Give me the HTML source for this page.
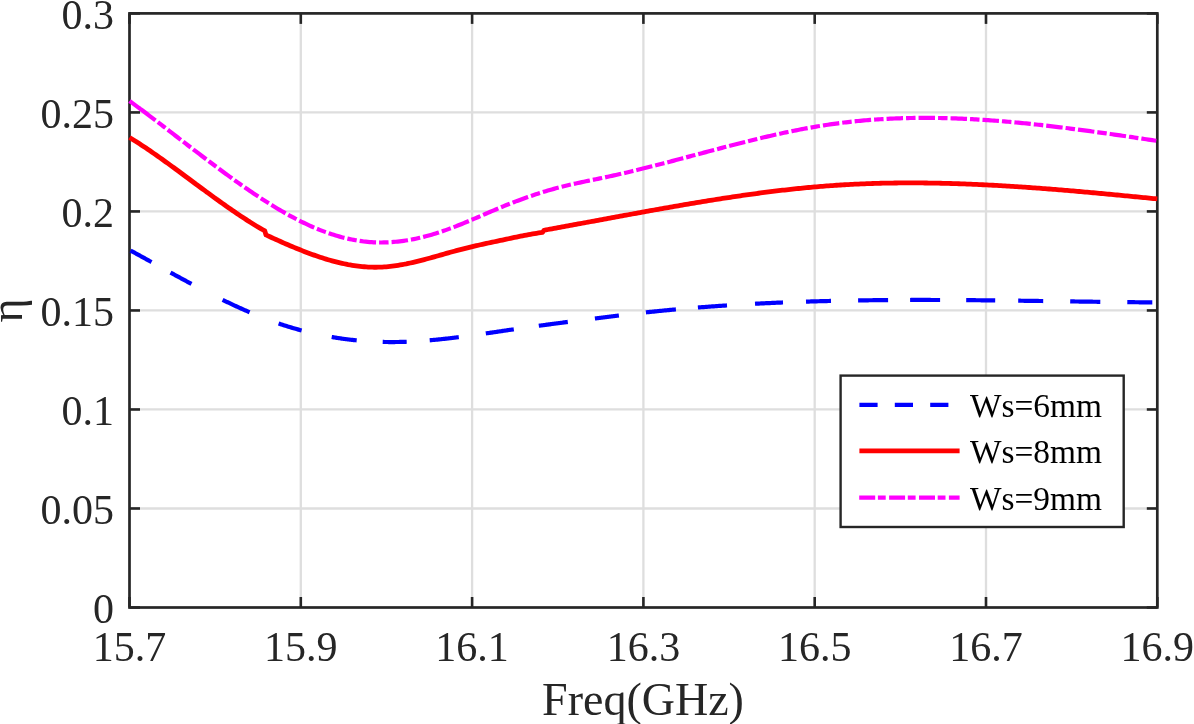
<!DOCTYPE html>
<html><head><meta charset="utf-8"><style>
html,body{margin:0;padding:0;background:#fff;width:1194px;height:724px;overflow:hidden}
svg{display:block;will-change:transform}
text{font-family:"Liberation Serif",serif;fill:#262626}
</style></head><body>
<svg width="1194" height="724" viewBox="0 0 1194 724">
<line x1="300.80" y1="13.40" x2="300.80" y2="607.50" stroke="#dedede" stroke-width="2.3"/>
<line x1="472.10" y1="13.40" x2="472.10" y2="607.50" stroke="#dedede" stroke-width="2.3"/>
<line x1="643.40" y1="13.40" x2="643.40" y2="607.50" stroke="#dedede" stroke-width="2.3"/>
<line x1="814.70" y1="13.40" x2="814.70" y2="607.50" stroke="#dedede" stroke-width="2.3"/>
<line x1="986.00" y1="13.40" x2="986.00" y2="607.50" stroke="#dedede" stroke-width="2.3"/>
<line x1="129.50" y1="508.48" x2="1157.30" y2="508.48" stroke="#dedede" stroke-width="2.3"/>
<line x1="129.50" y1="409.47" x2="1157.30" y2="409.47" stroke="#dedede" stroke-width="2.3"/>
<line x1="129.50" y1="310.45" x2="1157.30" y2="310.45" stroke="#dedede" stroke-width="2.3"/>
<line x1="129.50" y1="211.43" x2="1157.30" y2="211.43" stroke="#dedede" stroke-width="2.3"/>
<line x1="129.50" y1="112.42" x2="1157.30" y2="112.42" stroke="#dedede" stroke-width="2.3"/>
<line x1="129.50" y1="607.50" x2="129.50" y2="597.00" stroke="#262626" stroke-width="2.6"/>
<line x1="129.50" y1="13.40" x2="129.50" y2="23.90" stroke="#262626" stroke-width="2.6"/>
<line x1="300.80" y1="607.50" x2="300.80" y2="597.00" stroke="#262626" stroke-width="2.6"/>
<line x1="300.80" y1="13.40" x2="300.80" y2="23.90" stroke="#262626" stroke-width="2.6"/>
<line x1="472.10" y1="607.50" x2="472.10" y2="597.00" stroke="#262626" stroke-width="2.6"/>
<line x1="472.10" y1="13.40" x2="472.10" y2="23.90" stroke="#262626" stroke-width="2.6"/>
<line x1="643.40" y1="607.50" x2="643.40" y2="597.00" stroke="#262626" stroke-width="2.6"/>
<line x1="643.40" y1="13.40" x2="643.40" y2="23.90" stroke="#262626" stroke-width="2.6"/>
<line x1="814.70" y1="607.50" x2="814.70" y2="597.00" stroke="#262626" stroke-width="2.6"/>
<line x1="814.70" y1="13.40" x2="814.70" y2="23.90" stroke="#262626" stroke-width="2.6"/>
<line x1="986.00" y1="607.50" x2="986.00" y2="597.00" stroke="#262626" stroke-width="2.6"/>
<line x1="986.00" y1="13.40" x2="986.00" y2="23.90" stroke="#262626" stroke-width="2.6"/>
<line x1="1157.30" y1="607.50" x2="1157.30" y2="597.00" stroke="#262626" stroke-width="2.6"/>
<line x1="1157.30" y1="13.40" x2="1157.30" y2="23.90" stroke="#262626" stroke-width="2.6"/>
<line x1="129.50" y1="607.50" x2="140.00" y2="607.50" stroke="#262626" stroke-width="2.6"/>
<line x1="1157.30" y1="607.50" x2="1146.80" y2="607.50" stroke="#262626" stroke-width="2.6"/>
<line x1="129.50" y1="508.48" x2="140.00" y2="508.48" stroke="#262626" stroke-width="2.6"/>
<line x1="1157.30" y1="508.48" x2="1146.80" y2="508.48" stroke="#262626" stroke-width="2.6"/>
<line x1="129.50" y1="409.47" x2="140.00" y2="409.47" stroke="#262626" stroke-width="2.6"/>
<line x1="1157.30" y1="409.47" x2="1146.80" y2="409.47" stroke="#262626" stroke-width="2.6"/>
<line x1="129.50" y1="310.45" x2="140.00" y2="310.45" stroke="#262626" stroke-width="2.6"/>
<line x1="1157.30" y1="310.45" x2="1146.80" y2="310.45" stroke="#262626" stroke-width="2.6"/>
<line x1="129.50" y1="211.43" x2="140.00" y2="211.43" stroke="#262626" stroke-width="2.6"/>
<line x1="1157.30" y1="211.43" x2="1146.80" y2="211.43" stroke="#262626" stroke-width="2.6"/>
<line x1="129.50" y1="112.42" x2="140.00" y2="112.42" stroke="#262626" stroke-width="2.6"/>
<line x1="1157.30" y1="112.42" x2="1146.80" y2="112.42" stroke="#262626" stroke-width="2.6"/>
<line x1="129.50" y1="13.40" x2="140.00" y2="13.40" stroke="#262626" stroke-width="2.6"/>
<line x1="1157.30" y1="13.40" x2="1146.80" y2="13.40" stroke="#262626" stroke-width="2.6"/>
<rect x="129.50" y="13.40" width="1027.80" height="594.10" fill="none" stroke="#262626" stroke-width="2.7"/>
<path d="M129.5,100.96 L130.5,101.69 L131.5,102.42 L132.5,103.15 L133.5,103.88 L134.5,104.62 L135.5,105.35 L136.5,106.09 L137.5,106.83 L138.5,107.57 L139.5,108.31 L140.5,109.06 L141.5,109.80 L142.5,110.55 L143.5,111.30 L144.5,112.05 L145.5,112.80 L146.5,113.55 L147.5,114.30 L148.5,115.06 L149.5,115.81 L150.5,116.57 L151.5,117.32 L152.5,118.08 L153.5,118.84 L154.5,119.60 L155.5,120.36" fill="none" stroke="#ff00ff" stroke-width="4.2"/>
<path d="M155.5,120.36 L157.5,121.89 L159.5,123.42 L161.5,124.95 L163.5,126.48 L165.5,128.02 L167.5,129.55 L169.5,131.09 L171.5,132.63 L173.5,134.17 L175.5,135.72 L177.5,137.26 L179.5,138.80 L181.5,140.35 L183.5,141.89 L185.5,143.43 L187.5,144.97 L189.5,146.51 L191.5,148.05 L193.5,149.59 L195.6,151.13 L197.6,152.66 L199.6,154.19 L201.6,155.71 L203.6,157.24 L205.6,158.76 L207.6,160.27 L209.6,161.79 L211.6,163.29 L213.6,164.80 L215.6,166.30 L217.6,167.79 L219.6,169.28 L221.6,170.76 L223.6,172.23 L225.6,173.70 L227.6,175.16 L229.6,176.62 L231.6,178.07 L233.6,179.51 L235.6,180.94 L237.6,182.36 L239.6,183.78 L241.6,185.19 L243.6,186.58 L245.6,187.97 L247.6,189.35 L249.6,190.72 L251.6,192.08 L253.6,193.43 L255.6,194.76 L257.6,196.09 L259.6,197.41 L261.6,198.71 L263.6,200.00 L265.6,201.28 L267.6,202.55 L269.6,203.80 L271.6,205.04 L273.6,206.27 L275.6,207.48 L277.6,208.68 L279.6,209.86 L281.6,211.03 L283.6,212.18 L285.6,213.31 L287.6,214.43 L289.6,215.54 L291.6,216.62 L293.6,217.69 L295.6,218.74 L297.6,219.77 L299.6,220.79 L301.6,221.78 L303.6,222.76 L305.6,223.71 L307.6,224.65 L309.6,225.57 L311.6,226.46 L313.6,227.34 L315.6,228.19 L317.6,229.02 L319.6,229.83 L321.6,230.61 L323.7,231.38 L325.7,232.12 L327.7,232.83 L329.7,233.53 L331.7,234.20 L333.7,234.84 L335.7,235.46 L337.7,236.06 L339.7,236.63 L341.7,237.17 L343.7,237.69 L345.7,238.19 L347.7,238.66 L349.7,239.10 L351.7,239.52 L353.7,239.91 L355.7,240.27 L357.7,240.61 L359.7,240.92 L361.7,241.20 L363.7,241.46 L365.7,241.68 L367.7,241.88 L369.7,242.05 L371.7,242.19 L373.7,242.31 L375.7,242.39 L377.7,242.45 L379.7,242.48 L381.7,242.48 L383.7,242.46 L385.7,242.41 L387.7,242.33 L389.7,242.23 L391.7,242.11 L393.7,241.95 L395.7,241.78 L397.7,241.58 L399.7,241.35 L401.7,241.10 L403.7,240.82 L405.7,240.53 L407.7,240.21 L409.7,239.86 L411.7,239.50 L413.7,239.11 L415.7,238.70 L417.7,238.27 L419.7,237.81 L421.7,237.34 L423.7,236.84 L425.7,236.33 L427.7,235.79 L429.7,235.24 L431.7,234.66 L433.7,234.07 L435.7,233.45 L437.7,232.82 L439.7,232.17 L441.7,231.50 L443.7,230.81 L445.7,230.11 L447.7,229.39 L449.7,228.65 L451.8,227.90 L453.8,227.13 L455.8,226.36 L457.8,225.57 L459.8,224.76 L461.8,223.95 L463.8,223.13 L465.8,222.30 L467.8,221.47 L469.8,220.62 L471.8,219.77 L473.8,218.92 L475.8,218.06 L477.8,217.20 L479.8,216.34 L481.8,215.47 L483.8,214.61 L485.8,213.74 L487.8,212.88 L489.8,212.02 L491.8,211.16 L493.8,210.31 L495.8,209.46 L497.8,208.62 L499.8,207.78 L501.8,206.95 L503.8,206.13 L505.8,205.32 L507.8,204.52 L509.8,203.73 L511.8,202.95 L513.8,202.17 L515.8,201.41 L517.8,200.66 L519.8,199.91 L521.8,199.18 L523.8,198.45 L525.8,197.74 L527.8,197.03 L529.8,196.34 L531.8,195.66 L533.8,194.98 L535.8,194.32 L537.8,193.67 L539.8,193.03 L541.8,192.40 L543.8,191.78 L545.8,191.18 L547.8,190.58 L549.8,190.00 L551.8,189.43 L553.8,188.87 L555.8,188.32 L557.8,187.78 L559.8,187.26 L561.8,186.75 L563.8,186.25 L565.8,185.76 L567.8,185.28 L569.8,184.81 L571.8,184.35 L573.8,183.90 L575.8,183.45 L577.8,183.02 L579.9,182.58 L581.9,182.15 L583.9,181.73 L585.9,181.31 L587.9,180.90 L589.9,180.48 L591.9,180.07 L593.9,179.65 L595.9,179.24 L597.9,178.83 L599.9,178.41 L601.9,178.00 L603.9,177.58 L605.9,177.15 L607.9,176.73 L609.9,176.29 L611.9,175.86 L613.9,175.42 L615.9,174.97 L617.9,174.52 L619.9,174.06 L621.9,173.61 L623.9,173.14 L625.9,172.68 L627.9,172.21 L629.9,171.73 L631.9,171.26 L633.9,170.78 L635.9,170.29 L637.9,169.80 L639.9,169.31 L641.9,168.82 L643.9,168.33 L645.9,167.83 L647.9,167.32 L649.9,166.82 L651.9,166.31 L653.9,165.80 L655.9,165.29 L657.9,164.78 L659.9,164.26 L661.9,163.75 L663.9,163.23 L665.9,162.71 L667.9,162.19 L669.9,161.66 L671.9,161.14 L673.9,160.61 L675.9,160.08 L677.9,159.55 L679.9,159.02 L681.9,158.49 L683.9,157.96 L685.9,157.43 L687.9,156.90 L689.9,156.36 L691.9,155.83 L693.9,155.30 L695.9,154.76 L697.9,154.23 L699.9,153.70 L701.9,153.16 L703.9,152.63 L705.9,152.10 L708.0,151.57 L710.0,151.03 L712.0,150.50 L714.0,149.97 L716.0,149.45 L718.0,148.92 L720.0,148.39 L722.0,147.87 L724.0,147.34 L726.0,146.82 L728.0,146.30 L730.0,145.78 L732.0,145.27 L734.0,144.75 L736.0,144.24 L738.0,143.73 L740.0,143.22 L742.0,142.71 L744.0,142.21 L746.0,141.71 L748.0,141.21 L750.0,140.71 L752.0,140.22 L754.0,139.73 L756.0,139.24 L758.0,138.76 L760.0,138.28 L762.0,137.80 L764.0,137.33 L766.0,136.86 L768.0,136.40 L770.0,135.93 L772.0,135.48 L774.0,135.02 L776.0,134.57 L778.0,134.13 L780.0,133.69 L782.0,133.25 L784.0,132.82 L786.0,132.39 L788.0,131.97 L790.0,131.55 L792.0,131.14 L794.0,130.73 L796.0,130.33 L798.0,129.94 L800.0,129.55 L802.0,129.16 L804.0,128.78 L806.0,128.41 L808.0,128.04 L810.0,127.68 L812.0,127.32 L814.0,126.97 L816.0,126.63 L818.0,126.29 L820.0,125.96 L822.0,125.64 L824.0,125.32 L826.0,125.01 L828.0,124.71 L830.0,124.41 L832.0,124.13 L834.0,123.84 L836.0,123.57 L838.1,123.30 L840.1,123.04 L842.1,122.79 L844.1,122.54 L846.1,122.30 L848.1,122.07 L850.1,121.84 L852.1,121.63 L854.1,121.41 L856.1,121.21 L858.1,121.01 L860.1,120.82 L862.1,120.63 L864.1,120.45 L866.1,120.28 L868.1,120.11 L870.1,119.95 L872.1,119.80 L874.1,119.65 L876.1,119.51 L878.1,119.37 L880.1,119.24 L882.1,119.12 L884.1,119.00 L886.1,118.89 L888.1,118.79 L890.1,118.69 L892.1,118.60 L894.1,118.51 L896.1,118.43 L898.1,118.35 L900.1,118.28 L902.1,118.22 L904.1,118.16 L906.1,118.10 L908.1,118.06 L910.1,118.01 L912.1,117.98 L914.1,117.95 L916.1,117.92 L918.1,117.90 L920.1,117.88 L922.1,117.87 L924.1,117.87 L926.1,117.87 L928.1,117.87 L930.1,117.89 L932.1,117.90 L934.1,117.92 L936.1,117.95 L938.1,117.98 L940.1,118.01 L942.1,118.05 L944.1,118.09 L946.1,118.14 L948.1,118.20 L950.1,118.26 L952.1,118.32 L954.1,118.39 L956.1,118.46 L958.1,118.53 L960.1,118.62 L962.1,118.70 L964.1,118.79 L966.2,118.88 L968.2,118.98 L970.2,119.08 L972.2,119.19 L974.2,119.30 L976.2,119.41 L978.2,119.53 L980.2,119.66 L982.2,119.78 L984.2,119.91 L986.2,120.05 L988.2,120.18 L990.2,120.32 L992.2,120.47 L994.2,120.62 L996.2,120.77 L998.2,120.93 L1000.2,121.09 L1002.2,121.25 L1004.2,121.42 L1006.2,121.59 L1008.2,121.76 L1010.2,121.94 L1012.2,122.12 L1014.2,122.30 L1016.2,122.48 L1018.2,122.67 L1020.2,122.87 L1022.2,123.06 L1024.2,123.26 L1026.2,123.46 L1028.2,123.66 L1030.2,123.87 L1032.2,124.08 L1034.2,124.29 L1036.2,124.51 L1038.2,124.73 L1040.2,124.95 L1042.2,125.17 L1044.2,125.40 L1046.2,125.63 L1048.2,125.86 L1050.2,126.09 L1052.2,126.33 L1054.2,126.56 L1056.2,126.80 L1058.2,127.05 L1060.2,127.29 L1062.2,127.54 L1064.2,127.79 L1066.2,128.04 L1068.2,128.29 L1070.2,128.55 L1072.2,128.80 L1074.2,129.06 L1076.2,129.32 L1078.2,129.59 L1080.2,129.85 L1082.2,130.12 L1084.2,130.38 L1086.2,130.65 L1088.2,130.92 L1090.2,131.20 L1092.2,131.47 L1094.3,131.75 L1096.3,132.02 L1098.3,132.30 L1100.3,132.58 L1102.3,132.86 L1104.3,133.15 L1106.3,133.43 L1108.3,133.71 L1110.3,134.00 L1112.3,134.29 L1114.3,134.57 L1116.3,134.86 L1118.3,135.15 L1120.3,135.44 L1122.3,135.73 L1124.3,136.03 L1126.3,136.32 L1128.3,136.61 L1130.3,136.91 L1132.3,137.20 L1134.3,137.50 L1136.3,137.80 L1138.3,138.09 L1140.3,138.39 L1142.3,138.69 L1144.3,138.98 L1146.3,139.28 L1148.3,139.58 L1150.3,139.88 L1152.3,140.18 L1154.3,140.48 L1156.3,140.78" fill="none" stroke="#ff00ff" stroke-width="4.2" stroke-dasharray="16.5 3 9.5 3" stroke-dashoffset="16.5"/>
<path d="M129.5,137.43 L131.5,138.68 L133.5,139.94 L135.6,141.22 L137.6,142.52 L139.6,143.83 L141.6,145.15 L143.6,146.49 L145.7,147.84 L147.7,149.20 L149.7,150.58 L151.7,151.96 L153.7,153.36 L155.8,154.77 L157.8,156.19 L159.8,157.61 L161.8,159.05 L163.8,160.49 L165.8,161.94 L167.9,163.40 L169.9,164.86 L171.9,166.33 L173.9,167.80 L175.9,169.28 L178.0,170.77 L180.0,172.25 L182.0,173.74 L184.0,175.24 L186.0,176.73 L188.1,178.23 L190.1,179.73 L192.1,181.23 L194.1,182.72 L196.1,184.22 L198.2,185.72 L200.2,187.21 L202.2,188.71 L204.2,190.19 L206.2,191.68 L208.3,193.16 L210.3,194.64 L212.3,196.12 L214.3,197.58 L216.3,199.05 L218.4,200.50 L220.4,201.95 L222.4,203.39 L224.4,204.82 L226.4,206.24 L228.5,207.66 L230.5,209.06 L232.5,210.46 L234.5,211.84 L236.5,213.21 L238.5,214.57 L240.6,215.92 L242.6,217.25 L244.6,218.57 L246.6,219.88 L248.6,221.17 L250.7,222.45 L252.7,223.71 L254.7,224.96 L256.7,226.18 L258.7,227.39 L260.8,228.59 L262.8,229.76 L264.8,230.92 L266.0,234.94 L268.0,235.87 L270.0,236.79 L272.0,237.70 L274.0,238.61 L276.0,239.52 L278.0,240.42 L280.0,241.31 L282.0,242.20 L284.0,243.08 L286.0,243.96 L288.0,244.82 L290.0,245.68 L292.0,246.53 L294.1,247.37 L296.1,248.20 L298.1,249.02 L300.1,249.82 L302.1,250.62 L304.1,251.40 L306.1,252.18 L308.1,252.94 L310.1,253.68 L312.1,254.41 L314.1,255.13 L316.1,255.83 L318.1,256.51 L320.1,257.18 L322.1,257.84 L324.1,258.47 L326.1,259.09 L328.1,259.69 L330.1,260.27 L332.1,260.83 L334.1,261.37 L336.1,261.89 L338.1,262.39 L340.1,262.87 L342.1,263.33 L344.1,263.76 L346.1,264.17 L348.1,264.56 L350.2,264.92 L352.2,265.26 L354.2,265.58 L356.2,265.87 L358.2,266.13 L360.2,266.37 L362.2,266.58 L364.2,266.76 L366.2,266.91 L368.2,267.04 L370.2,267.13 L372.2,267.20 L374.2,267.23 L376.2,267.24 L378.2,267.21 L380.2,267.15 L382.2,267.06 L384.2,266.94 L386.2,266.79 L388.2,266.61 L390.2,266.40 L392.2,266.17 L394.2,265.91 L396.2,265.62 L398.2,265.31 L400.2,264.98 L402.2,264.62 L404.2,264.24 L406.3,263.85 L408.3,263.43 L410.3,263.00 L412.3,262.55 L414.3,262.09 L416.3,261.61 L418.3,261.12 L420.3,260.62 L422.3,260.10 L424.3,259.58 L426.3,259.04 L428.3,258.50 L430.3,257.95 L432.3,257.40 L434.3,256.84 L436.3,256.27 L438.3,255.71 L440.3,255.14 L442.3,254.57 L444.3,254.00 L446.3,253.43 L448.3,252.87 L450.3,252.31 L452.3,251.75 L454.3,251.20 L456.3,250.66 L458.3,250.12 L460.4,249.60 L462.4,249.08 L464.4,248.57 L466.4,248.07 L468.4,247.58 L470.4,247.10 L472.4,246.62 L474.4,246.15 L476.4,245.69 L478.4,245.23 L480.4,244.78 L482.4,244.33 L484.4,243.89 L486.4,243.45 L488.4,243.02 L490.4,242.58 L492.4,242.15 L494.4,241.73 L496.4,241.30 L498.4,240.88 L500.4,240.45 L502.4,240.03 L504.4,239.60 L506.4,239.17 L508.4,238.75 L510.4,238.32 L512.4,237.89 L514.4,237.46 L516.5,237.04 L518.5,236.62 L520.5,236.21 L522.5,235.80 L524.5,235.41 L526.5,235.02 L528.5,234.64 L530.5,234.28 L532.5,233.92 L534.5,233.59 L536.5,233.27 L538.5,232.97 L540.5,232.68 L542.5,232.42 L544.0,230.24 L546.0,229.88 L548.0,229.51 L550.0,229.15 L552.0,228.78 L554.0,228.41 L556.0,228.05 L558.0,227.68 L560.0,227.31 L562.0,226.94 L564.0,226.57 L566.0,226.20 L568.1,225.83 L570.1,225.46 L572.1,225.09 L574.1,224.72 L576.1,224.35 L578.1,223.98 L580.1,223.61 L582.1,223.24 L584.1,222.87 L586.1,222.50 L588.1,222.13 L590.1,221.76 L592.1,221.39 L594.1,221.02 L596.1,220.65 L598.1,220.27 L600.1,219.90 L602.1,219.53 L604.1,219.16 L606.1,218.79 L608.1,218.42 L610.1,218.05 L612.1,217.68 L614.1,217.31 L616.2,216.94 L618.2,216.58 L620.2,216.21 L622.2,215.84 L624.2,215.47 L626.2,215.10 L628.2,214.74 L630.2,214.37 L632.2,214.00 L634.2,213.64 L636.2,213.27 L638.2,212.91 L640.2,212.54 L642.2,212.18 L644.2,211.82 L646.2,211.46 L648.2,211.09 L650.2,210.73 L652.2,210.37 L654.2,210.01 L656.2,209.65 L658.2,209.30 L660.2,208.94 L662.3,208.58 L664.3,208.23 L666.3,207.87 L668.3,207.52 L670.3,207.17 L672.3,206.82 L674.3,206.47 L676.3,206.12 L678.3,205.77 L680.3,205.42 L682.3,205.08 L684.3,204.73 L686.3,204.39 L688.3,204.05 L690.3,203.71 L692.3,203.37 L694.3,203.03 L696.3,202.70 L698.3,202.36 L700.3,202.03 L702.3,201.70 L704.3,201.37 L706.3,201.04 L708.3,200.72 L710.4,200.39 L712.4,200.07 L714.4,199.75 L716.4,199.43 L718.4,199.12 L720.4,198.80 L722.4,198.49 L724.4,198.18 L726.4,197.87 L728.4,197.56 L730.4,197.26 L732.4,196.96 L734.4,196.66 L736.4,196.36 L738.4,196.07 L740.4,195.77 L742.4,195.48 L744.4,195.19 L746.4,194.91 L748.4,194.63 L750.4,194.35 L752.4,194.07 L754.4,193.79 L756.5,193.52 L758.5,193.25 L760.5,192.98 L762.5,192.72 L764.5,192.46 L766.5,192.20 L768.5,191.94 L770.5,191.69 L772.5,191.44 L774.5,191.20 L776.5,190.95 L778.5,190.71 L780.5,190.47 L782.5,190.24 L784.5,190.01 L786.5,189.78 L788.5,189.56 L790.5,189.34 L792.5,189.12 L794.5,188.90 L796.5,188.69 L798.5,188.49 L800.5,188.28 L802.5,188.08 L804.6,187.88 L806.6,187.69 L808.6,187.50 L810.6,187.32 L812.6,187.13 L814.6,186.95 L816.6,186.78 L818.6,186.61 L820.6,186.44 L822.6,186.28 L824.6,186.12 L826.6,185.97 L828.6,185.82 L830.6,185.67 L832.6,185.53 L834.6,185.39 L836.6,185.25 L838.6,185.12 L840.6,185.00 L842.6,184.87 L844.6,184.76 L846.6,184.64 L848.6,184.53 L850.6,184.42 L852.7,184.32 L854.7,184.22 L856.7,184.13 L858.7,184.03 L860.7,183.95 L862.7,183.86 L864.7,183.78 L866.7,183.71 L868.7,183.63 L870.7,183.56 L872.7,183.50 L874.7,183.44 L876.7,183.38 L878.7,183.32 L880.7,183.27 L882.7,183.22 L884.7,183.18 L886.7,183.14 L888.7,183.10 L890.7,183.07 L892.7,183.04 L894.7,183.01 L896.7,182.98 L898.8,182.96 L900.8,182.95 L902.8,182.93 L904.8,182.92 L906.8,182.91 L908.8,182.91 L910.8,182.91 L912.8,182.91 L914.8,182.91 L916.8,182.92 L918.8,182.93 L920.8,182.94 L922.8,182.96 L924.8,182.98 L926.8,183.00 L928.8,183.03 L930.8,183.06 L932.8,183.09 L934.8,183.12 L936.8,183.16 L938.8,183.20 L940.8,183.24 L942.8,183.29 L944.8,183.34 L946.9,183.39 L948.9,183.44 L950.9,183.50 L952.9,183.56 L954.9,183.62 L956.9,183.68 L958.9,183.75 L960.9,183.82 L962.9,183.89 L964.9,183.96 L966.9,184.04 L968.9,184.12 L970.9,184.20 L972.9,184.28 L974.9,184.37 L976.9,184.46 L978.9,184.55 L980.9,184.64 L982.9,184.74 L984.9,184.83 L986.9,184.93 L988.9,185.04 L990.9,185.14 L993.0,185.25 L995.0,185.36 L997.0,185.47 L999.0,185.58 L1001.0,185.69 L1003.0,185.81 L1005.0,185.93 L1007.0,186.05 L1009.0,186.17 L1011.0,186.30 L1013.0,186.42 L1015.0,186.55 L1017.0,186.68 L1019.0,186.81 L1021.0,186.95 L1023.0,187.08 L1025.0,187.22 L1027.0,187.36 L1029.0,187.50 L1031.0,187.64 L1033.0,187.79 L1035.0,187.93 L1037.0,188.08 L1039.0,188.23 L1041.1,188.38 L1043.1,188.53 L1045.1,188.68 L1047.1,188.84 L1049.1,188.99 L1051.1,189.15 L1053.1,189.31 L1055.1,189.47 L1057.1,189.63 L1059.1,189.80 L1061.1,189.96 L1063.1,190.13 L1065.1,190.30 L1067.1,190.46 L1069.1,190.63 L1071.1,190.80 L1073.1,190.98 L1075.1,191.15 L1077.1,191.32 L1079.1,191.50 L1081.1,191.67 L1083.1,191.85 L1085.1,192.03 L1087.2,192.21 L1089.2,192.39 L1091.2,192.57 L1093.2,192.75 L1095.2,192.94 L1097.2,193.12 L1099.2,193.30 L1101.2,193.49 L1103.2,193.68 L1105.2,193.86 L1107.2,194.05 L1109.2,194.24 L1111.2,194.43 L1113.2,194.62 L1115.2,194.81 L1117.2,195.00 L1119.2,195.19 L1121.2,195.38 L1123.2,195.58 L1125.2,195.77 L1127.2,195.96 L1129.2,196.16 L1131.2,196.35 L1133.2,196.55 L1135.3,196.74 L1137.3,196.94 L1139.3,197.14 L1141.3,197.33 L1143.3,197.53 L1145.3,197.73 L1147.3,197.93 L1149.3,198.12 L1151.3,198.32 L1153.3,198.52 L1155.3,198.72 L1157.3,198.92" fill="none" stroke="#ff0000" stroke-width="4.8" stroke-linejoin="round"/>
<path d="M130.5,250.53 L131.5,251.07 L132.5,251.62 L133.5,252.17 L134.5,252.71 L135.5,253.26 L136.5,253.81 L137.5,254.36 L138.5,254.91 L139.5,255.46 L140.5,256.01 L141.5,256.56 L142.5,257.11 L143.5,257.66 L144.5,258.21 L145.5,258.76 L146.5,259.31 L147.5,259.86 L148.5,260.41 L149.5,260.97 L150.5,261.52 L151.5,262.07" fill="none" stroke="#0000ff" stroke-width="4.2"/>
<path d="M170.5,272.55 L171.5,273.09 L172.5,273.64 L173.5,274.19 L174.5,274.74 L175.5,275.28 L176.5,275.83 L177.5,276.37 L178.5,276.92 L179.5,277.46 L180.5,278.00 L181.5,278.55 L182.5,279.09 L183.5,279.63 L184.5,280.17 L185.5,280.71 L186.5,281.25 L187.5,281.78 L188.5,282.32 L189.5,282.86 L190.5,283.39 L191.5,283.92" fill="none" stroke="#0000ff" stroke-width="4.2"/>
<path d="M222.6,299.83 L223.6,300.31 L224.6,300.80 L225.6,301.28 L226.6,301.77 L227.6,302.25 L228.6,302.72 L229.6,303.20 L230.6,303.67 L231.6,304.14 L232.6,304.61 L233.6,305.08 L234.6,305.55 L235.6,306.01 L236.6,306.47 L237.6,306.93 L238.6,307.39 L239.6,307.84 L240.6,308.29 L241.6,308.74 L242.6,309.19 L243.6,309.63 L244.6,310.07 L245.6,310.51 L246.6,310.95 L247.6,311.39 L248.6,311.82 L249.6,312.25" fill="none" stroke="#0000ff" stroke-width="4.2"/>
<path d="M278.6,323.47 L279.6,323.81 L280.6,324.14 L281.6,324.48 L282.6,324.81 L283.6,325.13 L284.6,325.46 L285.6,325.78 L286.6,326.09 L287.6,326.41 L288.6,326.72 L289.6,327.02 L290.6,327.33 L291.6,327.63 L292.6,327.92 L293.6,328.22 L294.6,328.51 L295.6,328.79 L296.6,329.08 L297.6,329.36 L298.6,329.63 L299.6,329.91 L300.6,330.18 L301.6,330.45" fill="none" stroke="#0000ff" stroke-width="4.2"/>
<path d="M331.7,337.00 L332.7,337.17 L333.7,337.34 L334.7,337.50 L335.7,337.66 L336.7,337.82 L337.7,337.98 L338.7,338.13 L339.7,338.28 L340.7,338.42 L341.7,338.57 L342.7,338.71 L343.7,338.84 L344.7,338.98 L345.7,339.11 L346.7,339.24 L347.7,339.36 L348.7,339.48 L349.7,339.60 L350.7,339.72 L351.7,339.83 L352.7,339.95 L353.7,340.05 L354.7,340.16 L355.7,340.26 L356.7,340.36" fill="none" stroke="#0000ff" stroke-width="4.2"/>
<path d="M382.7,341.93 L383.7,341.96 L384.7,341.98 L385.7,342.00 L386.7,342.01 L387.7,342.02 L388.7,342.03 L389.7,342.04 L390.7,342.04 L391.7,342.04 L392.7,342.04 L393.7,342.04 L394.7,342.03 L395.7,342.02 L396.7,342.01 L397.7,341.99 L398.7,341.98 L399.7,341.96 L400.7,341.93 L401.7,341.91 L402.7,341.88 L403.7,341.85 L404.7,341.82 L405.7,341.79 L406.7,341.75" fill="none" stroke="#0000ff" stroke-width="4.2"/>
<path d="M429.7,340.29 L430.7,340.20 L431.7,340.12 L432.7,340.02 L433.7,339.93 L434.7,339.84 L435.7,339.74 L436.7,339.65 L437.7,339.55 L438.7,339.45 L439.7,339.35 L440.7,339.24 L441.7,339.14 L442.7,339.03 L443.7,338.92 L444.7,338.81 L445.7,338.70 L446.7,338.59 L447.7,338.48 L448.7,338.36 L449.7,338.25 L450.8,338.13 L451.8,338.01 L452.8,337.89 L453.8,337.77 L454.8,337.65 L455.8,337.53 L456.8,337.40 L457.8,337.28 L458.8,337.15" fill="none" stroke="#0000ff" stroke-width="4.2"/>
<path d="M485.8,333.43 L486.8,333.28 L487.8,333.14 L488.8,332.99 L489.8,332.84 L490.8,332.70 L491.8,332.55 L492.8,332.40 L493.8,332.26 L494.8,332.11 L495.8,331.96 L496.8,331.81 L497.8,331.66 L498.8,331.52 L499.8,331.37 L500.8,331.22 L501.8,331.07 L502.8,330.92 L503.8,330.78 L504.8,330.63 L505.8,330.48 L506.8,330.33 L507.8,330.19 L508.8,330.04 L509.8,329.89 L510.8,329.75 L511.8,329.60 L512.8,329.46 L513.8,329.31" fill="none" stroke="#0000ff" stroke-width="4.2"/>
<path d="M538.8,325.79 L539.8,325.65 L540.8,325.51 L541.8,325.38 L542.8,325.24 L543.8,325.11 L544.8,324.97 L545.8,324.84 L546.8,324.70 L547.8,324.57 L548.8,324.43 L549.8,324.30 L550.8,324.16 L551.8,324.03 L552.8,323.90 L553.8,323.76 L554.8,323.63 L555.8,323.50 L556.8,323.37 L557.8,323.23 L558.8,323.10 L559.8,322.97 L560.8,322.84 L561.8,322.71 L562.8,322.58 L563.8,322.45 L564.8,322.32 L565.8,322.19 L566.8,322.06 L567.8,321.93" fill="none" stroke="#0000ff" stroke-width="4.2"/>
<path d="M594.9,318.47 L595.9,318.35 L596.9,318.22 L597.9,318.10 L598.9,317.97 L599.9,317.84 L600.9,317.72 L601.9,317.59 L602.9,317.47 L603.9,317.34 L604.9,317.22 L605.9,317.09 L606.9,316.97 L607.9,316.84 L608.9,316.72 L609.9,316.60 L610.9,316.47 L611.9,316.35 L612.9,316.23 L613.9,316.10 L614.9,315.98 L615.9,315.86 L616.9,315.74 L617.9,315.62 L618.9,315.50" fill="none" stroke="#0000ff" stroke-width="4.2"/>
<path d="M645.9,312.39 L646.9,312.28 L647.9,312.17 L648.9,312.06 L649.9,311.96 L650.9,311.85 L651.9,311.75 L652.9,311.64 L653.9,311.54 L654.9,311.43 L655.9,311.33 L656.9,311.23 L657.9,311.13 L658.9,311.03 L659.9,310.93 L660.9,310.83 L661.9,310.73 L662.9,310.63 L663.9,310.53 L664.9,310.43 L665.9,310.34 L666.9,310.24 L667.9,310.14 L668.9,310.05 L669.9,309.95 L670.9,309.86 L671.9,309.76 L672.9,309.67 L673.9,309.58 L674.9,309.49 L675.9,309.40" fill="none" stroke="#0000ff" stroke-width="4.2"/>
<path d="M697.9,307.52 L698.9,307.44 L699.9,307.36 L700.9,307.28 L701.9,307.20 L702.9,307.13 L703.9,307.05 L704.9,306.97 L705.9,306.90 L706.9,306.82 L708.0,306.75 L709.0,306.67 L710.0,306.60 L711.0,306.53 L712.0,306.45 L713.0,306.38 L714.0,306.31 L715.0,306.24 L716.0,306.17 L717.0,306.10 L718.0,306.03 L719.0,305.96 L720.0,305.89 L721.0,305.82 L722.0,305.75 L723.0,305.68 L724.0,305.62 L725.0,305.55 L726.0,305.49 L727.0,305.42" fill="none" stroke="#0000ff" stroke-width="4.2"/>
<path d="M755.0,303.77 L756.0,303.72 L757.0,303.67 L758.0,303.62 L759.0,303.57 L760.0,303.52 L761.0,303.47 L762.0,303.42 L763.0,303.37 L764.0,303.32 L765.0,303.27 L766.0,303.22 L767.0,303.18 L768.0,303.13 L769.0,303.08 L770.0,303.03 L771.0,302.99 L772.0,302.94 L773.0,302.90 L774.0,302.85 L775.0,302.81 L776.0,302.77 L777.0,302.72 L778.0,302.68 L779.0,302.64 L780.0,302.59 L781.0,302.55 L782.0,302.51 L783.0,302.47" fill="none" stroke="#0000ff" stroke-width="4.2"/>
<path d="M806.0,301.63 L807.0,301.60 L808.0,301.57 L809.0,301.54 L810.0,301.50 L811.0,301.47 L812.0,301.44 L813.0,301.41 L814.0,301.38 L815.0,301.36 L816.0,301.33 L817.0,301.30 L818.0,301.27 L819.0,301.24 L820.0,301.21 L821.0,301.19 L822.0,301.16 L823.0,301.13 L824.0,301.11 L825.0,301.08 L826.0,301.06 L827.0,301.03 L828.0,301.01 L829.0,300.98 L830.0,300.96 L831.0,300.94" fill="none" stroke="#0000ff" stroke-width="4.2"/>
<path d="M858.1,300.41 L859.1,300.40 L860.1,300.38 L861.1,300.37 L862.1,300.35 L863.1,300.34 L864.1,300.33 L865.1,300.31 L866.1,300.30 L867.1,300.29 L868.1,300.28 L869.1,300.26 L870.1,300.25 L871.1,300.24 L872.1,300.23 L873.1,300.22 L874.1,300.21 L875.1,300.19 L876.1,300.18 L877.1,300.17 L878.1,300.16 L879.1,300.15 L880.1,300.15 L881.1,300.14 L882.1,300.13 L883.1,300.12 L884.1,300.11 L885.1,300.10 L886.1,300.09 L887.1,300.09 L888.1,300.08" fill="none" stroke="#0000ff" stroke-width="4.2"/>
<path d="M910.1,299.98 L911.1,299.97 L912.1,299.97 L913.1,299.97 L914.1,299.97 L915.1,299.97 L916.1,299.97 L917.1,299.97 L918.1,299.97 L919.1,299.97 L920.1,299.97 L921.1,299.97 L922.1,299.97 L923.1,299.97 L924.1,299.97 L925.1,299.97 L926.1,299.97 L927.1,299.97 L928.1,299.97 L929.1,299.97 L930.1,299.97 L931.1,299.98 L932.1,299.98 L933.1,299.98 L934.1,299.98 L935.1,299.99 L936.1,299.99 L937.1,299.99 L938.1,300.00 L939.1,300.00 L940.1,300.00" fill="none" stroke="#0000ff" stroke-width="4.2"/>
<path d="M966.2,300.15 L967.2,300.16 L968.2,300.17 L969.2,300.17 L970.2,300.18 L971.2,300.19 L972.2,300.20 L973.2,300.21 L974.2,300.22 L975.2,300.22 L976.2,300.23 L977.2,300.24 L978.2,300.25 L979.2,300.26 L980.2,300.27 L981.2,300.28 L982.2,300.29 L983.2,300.30 L984.2,300.31 L985.2,300.32 L986.2,300.33 L987.2,300.34 L988.2,300.35 L989.2,300.36 L990.2,300.37 L991.2,300.38 L992.2,300.39 L993.2,300.40 L994.2,300.41 L995.2,300.42" fill="none" stroke="#0000ff" stroke-width="4.2"/>
<path d="M1018.2,300.70 L1019.2,300.71 L1020.2,300.72 L1021.2,300.74 L1022.2,300.75 L1023.2,300.76 L1024.2,300.78 L1025.2,300.79 L1026.2,300.80 L1027.2,300.82 L1028.2,300.83 L1029.2,300.84 L1030.2,300.86 L1031.2,300.87 L1032.2,300.88 L1033.2,300.90 L1034.2,300.91 L1035.2,300.92 L1036.2,300.94 L1037.2,300.95 L1038.2,300.96 L1039.2,300.98 L1040.2,300.99 L1041.2,301.00 L1042.2,301.02 L1043.2,301.03" fill="none" stroke="#0000ff" stroke-width="4.2"/>
<path d="M1070.2,301.41 L1071.2,301.43 L1072.2,301.44 L1073.2,301.45 L1074.2,301.47 L1075.2,301.48 L1076.2,301.50 L1077.2,301.51 L1078.2,301.52 L1079.2,301.54 L1080.2,301.55 L1081.2,301.57 L1082.2,301.58 L1083.2,301.59 L1084.2,301.61 L1085.2,301.62 L1086.2,301.63 L1087.2,301.65 L1088.2,301.66 L1089.2,301.68 L1090.2,301.69 L1091.2,301.70 L1092.2,301.72 L1093.3,301.73 L1094.3,301.74 L1095.3,301.76 L1096.3,301.77 L1097.3,301.78 L1098.3,301.80 L1099.3,301.81 L1100.3,301.82" fill="none" stroke="#0000ff" stroke-width="4.2"/>
<path d="M1127.3,302.15 L1128.3,302.16 L1129.3,302.17 L1130.3,302.18 L1131.3,302.19 L1132.3,302.20 L1133.3,302.21 L1134.3,302.22 L1135.3,302.24 L1136.3,302.25 L1137.3,302.26 L1138.3,302.27 L1139.3,302.28 L1140.3,302.29 L1141.3,302.30 L1142.3,302.30 L1143.3,302.31 L1144.3,302.32 L1145.3,302.33 L1146.3,302.34 L1147.3,302.35 L1148.3,302.36 L1149.3,302.37 L1150.3,302.38 L1151.3,302.39 L1152.3,302.39" fill="none" stroke="#0000ff" stroke-width="4.2"/>
<text x="129.50" y="661" font-size="42" text-anchor="middle">15.7</text>
<text x="300.80" y="661" font-size="42" text-anchor="middle">15.9</text>
<text x="472.10" y="661" font-size="42" text-anchor="middle">16.1</text>
<text x="643.40" y="661" font-size="42" text-anchor="middle">16.3</text>
<text x="814.70" y="661" font-size="42" text-anchor="middle">16.5</text>
<text x="986.00" y="661" font-size="42" text-anchor="middle">16.7</text>
<text x="1157.30" y="661" font-size="42" text-anchor="middle">16.9</text>
<text x="113.9" y="623.20" font-size="42" text-anchor="end">0</text>
<text x="113.9" y="524.18" font-size="42" text-anchor="end">0.05</text>
<text x="113.9" y="425.17" font-size="42" text-anchor="end">0.1</text>
<text x="113.9" y="326.15" font-size="42" text-anchor="end">0.15</text>
<text x="113.9" y="227.13" font-size="42" text-anchor="end">0.2</text>
<text x="113.9" y="128.12" font-size="42" text-anchor="end">0.25</text>
<text x="113.9" y="29.10" font-size="42" text-anchor="end">0.3</text>
<text x="643" y="715.3" font-size="46" text-anchor="middle">Freq(GHz)</text>
<text transform="translate(21.5,310.5) rotate(-90)" x="0" y="0" font-size="46" text-anchor="middle">&#951;</text>
<rect x="840.6" y="375.6" width="283.1" height="151.39999999999998" fill="#fff" stroke="#262626" stroke-width="2.4"/>
<line x1="859.4" y1="404.9" x2="959.6" y2="404.9" stroke="#0000ff" stroke-width="4.2" stroke-dasharray="18.2 17.2"/>
<line x1="859.4" y1="450.9" x2="959.6" y2="450.9" stroke="#ff0000" stroke-width="4.8"/>
<line x1="859.2" y1="497.7" x2="959.6" y2="497.7" stroke="#ff00ff" stroke-width="4.3" stroke-dasharray="16 2.7 7.8 3.4"/>
<text x="970" y="416.90" font-size="33.4" style="fill:#000">Ws=6mm</text>
<text x="970" y="462.90" font-size="33.4" style="fill:#000">Ws=8mm</text>
<text x="970" y="509.70" font-size="33.4" style="fill:#000">Ws=9mm</text>
</svg>
</body></html>
